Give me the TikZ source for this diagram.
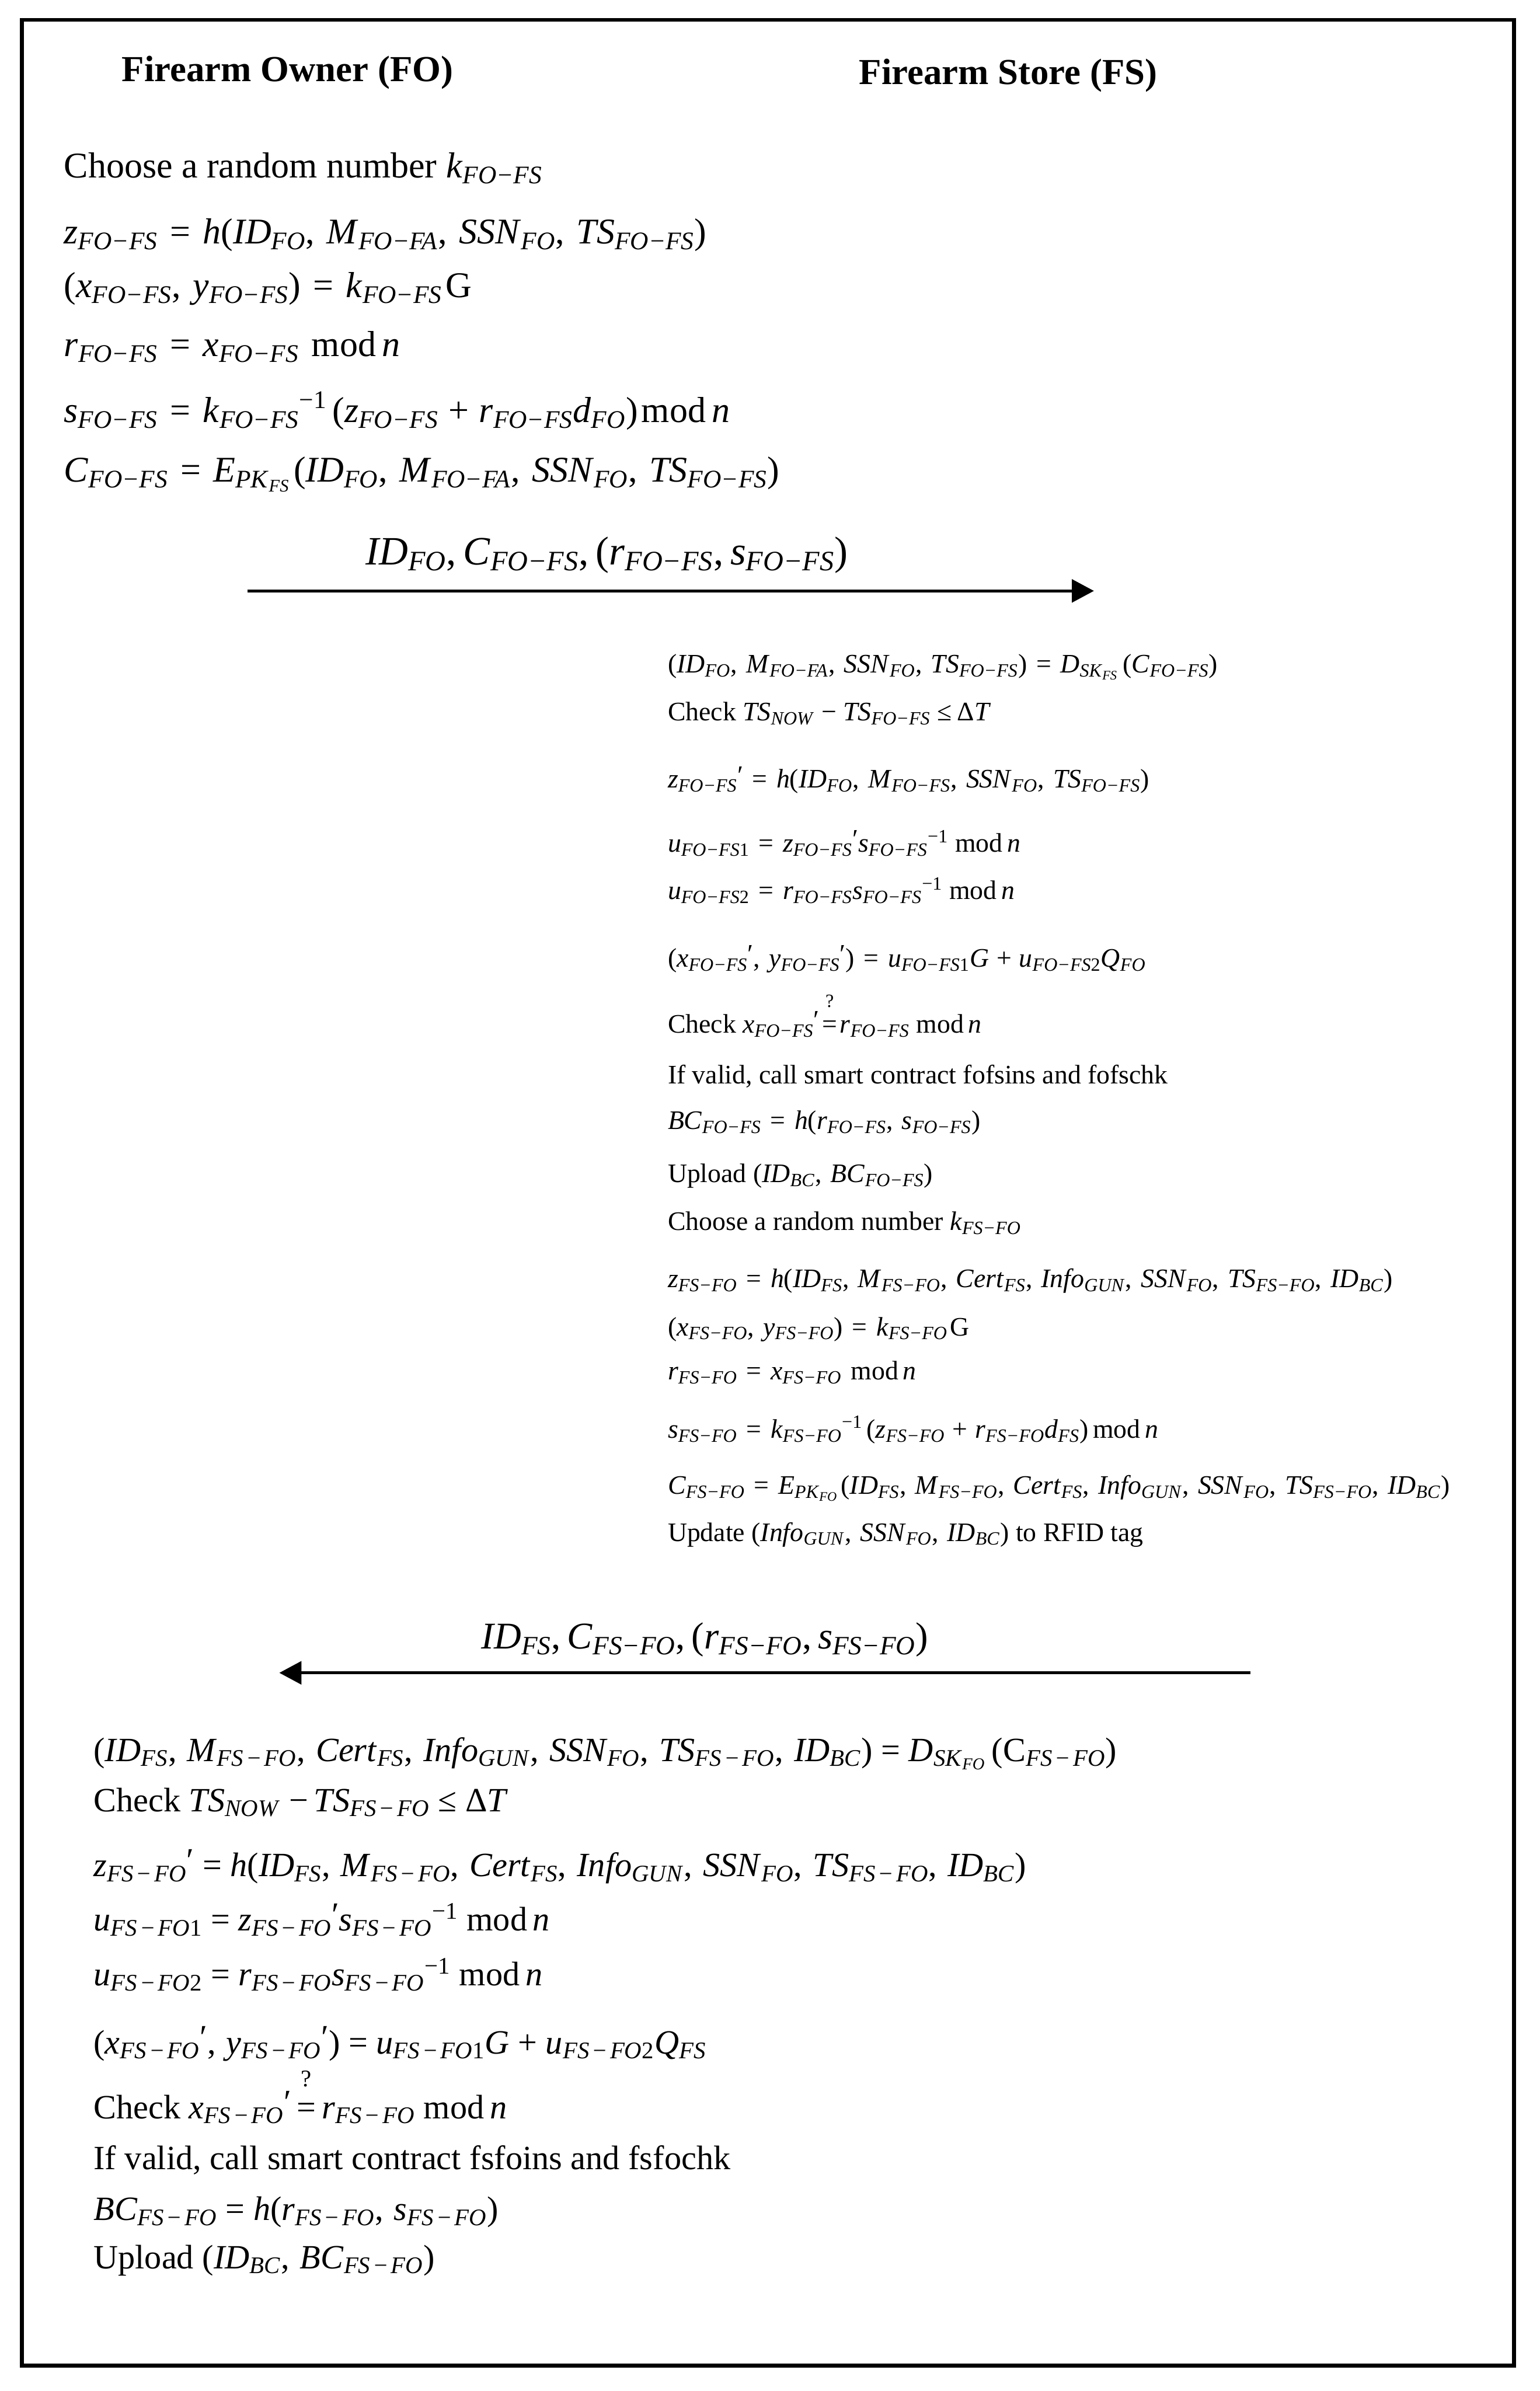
\documentclass[tikz,border=0pt]{standalone}
\usepackage{fontspec}
\setmainfont{Liberation Serif}
\usetikzlibrary{arrows.meta}

\newcommand\mi[1]{\textit{#1}}
\newcommand\Vs[2]{\textit{#1}\textsubscript{\textit{#2}}}
\newcommand\pr{\raisebox{0.15em}{′}}
\newcommand\qeq{\makebox[0pt][l]{\hspace{0.12em}\raisebox{0.6em}{\textsuperscript{?}}}=}
\newcommand\inv{\textsuperscript{−1}}
\newcommand\cma{,\hspace{0.33em}}
\newcommand\bcm{,\hspace{0.31em}}
\newcommand\eqs{\hspace{0.34em}=\hspace{0.34em}}
\newcommand\pls{\hspace{0.28em}+\hspace{0.28em}}
\newcommand\fsfo{FS\hspace{0.1em}−\hspace{0.1em}FO}

\tikzset{
  lbl/.style={inner sep=0pt, outer sep=0pt, anchor=base west},
  topt/.style={lbl, font=\fontsize{23.3}{28}\selectfont},
  midt/.style={lbl, font=\fontsize{17.2}{21}\selectfont},
  bott/.style={lbl, font=\fontsize{21.9}{26}\selectfont},
  ttl/.style={lbl, font=\fontsize{23.6}{28}\selectfont\bfseries},
  msg/.style={inner sep=0pt, outer sep=0pt, anchor=base},
  flow/.style={line width=0.06cm, -{Triangle[length=0.5cm,width=0.52cm]}},
}

\begin{document}
\begin{tikzpicture}
\useasboundingbox (0,0) rectangle (34.84,-54.10);
\draw[line width=0.09cm] (0.49,-0.45) rectangle (34.25,-53.52);

% titles
\node[ttl] (fo) at (2.76,-1.84) {Firearm Owner (FO)};
\node[ttl] (fs) at (19.44,-1.91) {Firearm Store (FS)};

% FO first block
\node[topt] (t1) at (1.45,-4.02) {Choose a random number \Vs{k}{FO−FS}};
\node[topt] (t2) at (1.45,-5.52) {\Vs{z}{FO−FS}\eqs\mi{h}(\Vs{ID}{FO}\cma\Vs{M}{FO−FA}\cma\Vs{SSN}{FO}\cma\Vs{TS}{FO−FS})};
\node[topt] (t3) at (1.45,-6.73) {(\Vs{x}{FO−FS}\cma\Vs{y}{FO−FS})\eqs\Vs{k}{FO−FS}\hspace{0.1em}G};
\node[topt] (t4) at (1.45,-8.07) {\Vs{r}{FO−FS}\eqs\Vs{x}{FO−FS}\hspace{0.1em} mod\,\mi{n}};
\node[topt] (t5) at (1.45,-9.56) {\Vs{s}{FO−FS}\eqs\Vs{k}{FO−FS}\inv\hspace{0.15em}(\Vs{z}{FO−FS}\pls\Vs{r}{FO−FS}\Vs{d}{FO})\hspace{0.1em}mod\,\mi{n}};
\node[topt] (t6) at (1.45,-10.90) {\Vs{C}{FO−FS}\eqs\mi{E}\textsubscript{\mi{PK}\textsubscript{\mi{FS}}}\hspace{0.1em}(\Vs{ID}{FO}\cma\Vs{M}{FO−FA}\cma\Vs{SSN}{FO}\cma\Vs{TS}{FO−FS})};

% message 1
\node[msg, font=\fontsize{25.9}{30}\selectfont] (l1) at (13.73,-12.78) {\Vs{ID}{FO},\,\Vs{C}{FO−FS},\,(\Vs{r}{FO−FS},\,\Vs{s}{FO−FS})};
\coordinate (a1s) at (5.60,-13.37);
\coordinate (a1e) at (24.75,-13.37);
\draw[flow] (a1s) -- (a1e);

% FS block
\node[midt] (m1) at (15.11,-15.22) {(\Vs{ID}{FO}\cma\Vs{M}{FO−FA}\cma\Vs{SSN}{FO}\cma\Vs{TS}{FO−FS})\eqs\mi{D}\textsubscript{\mi{SK}\textsubscript{\mi{FS}}}\,(\Vs{C}{FO−FS})};
\node[midt] (m2) at (15.11,-16.30) {Check \Vs{TS}{NOW}\hspace{0.25em}−\hspace{0.25em}\Vs{TS}{FO−FS}\hspace{0.25em}≤\hspace{0.2em}Δ\mi{T}};
\node[midt] (m3) at (15.11,-17.83) {\Vs{z}{FO−FS}\pr\eqs\mi{h}(\Vs{ID}{FO}\cma\Vs{M}{FO−FS}\cma\Vs{SSN}{FO}\cma\Vs{TS}{FO−FS})};
\node[midt] (m4) at (15.11,-19.28) {\Vs{u}{FO−FS\textup{1}}\eqs\Vs{z}{FO−FS}\pr\Vs{s}{FO−FS}\inv\ mod\,\mi{n}};
\node[midt] (m5) at (15.11,-20.35) {\Vs{u}{FO−FS\textup{2}}\eqs\Vs{r}{FO−FS}\Vs{s}{FO−FS}\inv\ mod\,\mi{n}};
\node[midt] (m6) at (15.11,-21.88) {(\Vs{x}{FO−FS}\pr\cma\Vs{y}{FO−FS}\pr)\eqs\Vs{u}{FO−FS\textup{1}}\mi{G}\pls\Vs{u}{FO−FS\textup{2}}\Vs{Q}{FO}};
\node[midt] (m7) at (15.11,-23.37) {Check \Vs{x}{FO−FS}\pr\hspace{0.1em}\qeq\hspace{0.1em}\Vs{r}{FO−FS} mod\,\mi{n}};
\node[midt] (m8) at (15.11,-24.52) {If valid, call smart contract fofsins and fofschk};
\node[midt] (m9) at (15.11,-25.55) {\Vs{BC}{FO−FS}\eqs\mi{h}(\Vs{r}{FO−FS}\cma\Vs{s}{FO−FS})};
\node[midt] (m10) at (15.11,-26.75) {Upload (\Vs{ID}{BC}\cma\Vs{BC}{FO−FS})};
\node[midt] (m11) at (15.11,-27.84) {Choose a random number \Vs{k}{FS−FO}};
\node[midt] (m12) at (15.11,-29.13) {\Vs{z}{FS−FO}\eqs\mi{h}(\Vs{ID}{FS}\cma\Vs{M}{FS−FO}\cma\Vs{Cert}{FS}\cma\Vs{Info}{GUN}\cma\Vs{SSN}{FO}\cma\Vs{TS}{FS−FO}\cma\Vs{ID}{BC})};
\node[midt] (m13) at (15.11,-30.22) {(\Vs{x}{FS−FO}\cma\Vs{y}{FS−FO})\eqs\Vs{k}{FS−FO}\hspace{0.1em}G};
\node[midt] (m14) at (15.11,-31.22) {\Vs{r}{FS−FO}\eqs\Vs{x}{FS−FO}\hspace{0.1em} mod\,\mi{n}};
\node[midt] (m15) at (15.11,-32.54) {\Vs{s}{FS−FO}\eqs\Vs{k}{FS−FO}\inv\hspace{0.15em}(\Vs{z}{FS−FO}\pls\Vs{r}{FS−FO}\Vs{d}{FS})\,mod\,\mi{n}};
\node[midt] (m16) at (15.11,-33.81) {\Vs{C}{FS−FO}\eqs\mi{E}\textsubscript{\mi{PK}\textsubscript{\mi{FO}}}\hspace{0.1em}(\Vs{ID}{FS}\cma\Vs{M}{FS−FO}\cma\Vs{Cert}{FS}\cma\Vs{Info}{GUN}\cma\Vs{SSN}{FO}\cma\Vs{TS}{FS−FO}\cma\Vs{ID}{BC})};
\node[midt] (m17) at (15.11,-34.87) {Update (\Vs{Info}{GUN}\cma\Vs{SSN}{FO}\cma\Vs{ID}{BC}) to RFID tag};

% message 2
\node[msg, font=\fontsize{24.3}{28}\selectfont] (l2) at (15.95,-37.31) {\Vs{ID}{FS},\,\Vs{C}{FS−FO},\,(\Vs{r}{FS−FO},\,\Vs{s}{FS−FO})};
\coordinate (a2s) at (28.29,-37.85);
\coordinate (a2e) at (6.32,-37.85);
\draw[flow] (a2s) -- (a2e);

% FO second block
\node[bott] (b1) at (2.12,-39.85) {(\Vs{ID}{FS}\bcm\Vs{M}{\fsfo}\bcm\Vs{Cert}{FS}\bcm\Vs{Info}{GUN}\bcm\Vs{SSN}{FO}\bcm\Vs{TS}{\fsfo}\bcm\Vs{ID}{BC}) = \mi{D}\textsubscript{\mi{SK}\textsubscript{\mi{FO}}}\,(C\textsubscript{\mi{\fsfo}})};
\node[bott] (b2) at (2.12,-40.99) {Check \Vs{TS}{NOW} −\,\Vs{TS}{\fsfo} ≤ Δ\mi{T}};
\node[bott] (b3) at (2.12,-42.46) {\Vs{z}{\fsfo}\pr\ = \mi{h}(\Vs{ID}{FS}\bcm\Vs{M}{\fsfo}\bcm\Vs{Cert}{FS}\bcm\Vs{Info}{GUN}\bcm\Vs{SSN}{FO}\bcm\Vs{TS}{\fsfo}\bcm\Vs{ID}{BC})};
\node[bott] (b4) at (2.12,-43.69) {\Vs{u}{\fsfo\textup{1}} = \Vs{z}{\fsfo}\pr\Vs{s}{\fsfo}\inv\ mod\,\mi{n}};
\node[bott] (b5) at (2.12,-44.93) {\Vs{u}{\fsfo\textup{2}} = \Vs{r}{\fsfo}\Vs{s}{\fsfo}\inv\ mod\,\mi{n}};
\node[bott] (b6) at (2.12,-46.47) {(\Vs{x}{\fsfo}\pr\bcm\Vs{y}{\fsfo}\pr) = \Vs{u}{\fsfo\textup{1}}\mi{G} + \Vs{u}{\fsfo\textup{2}}\Vs{Q}{FS}};
\node[bott] (b7) at (2.12,-47.94) {Check \Vs{x}{\fsfo}\pr\,\qeq\,\Vs{r}{\fsfo} mod\,\mi{n}};
\node[bott] (b8) at (2.12,-49.09) {If valid, call smart contract fsfoins and fsfochk};
\node[bott] (b9) at (2.12,-50.24) {\Vs{BC}{\fsfo} = \mi{h}(\Vs{r}{\fsfo}\bcm\Vs{s}{\fsfo})};
\node[bott] (b10) at (2.12,-51.33) {Upload (\Vs{ID}{BC}\bcm\Vs{BC}{\fsfo})};
\end{tikzpicture}
\end{document}
